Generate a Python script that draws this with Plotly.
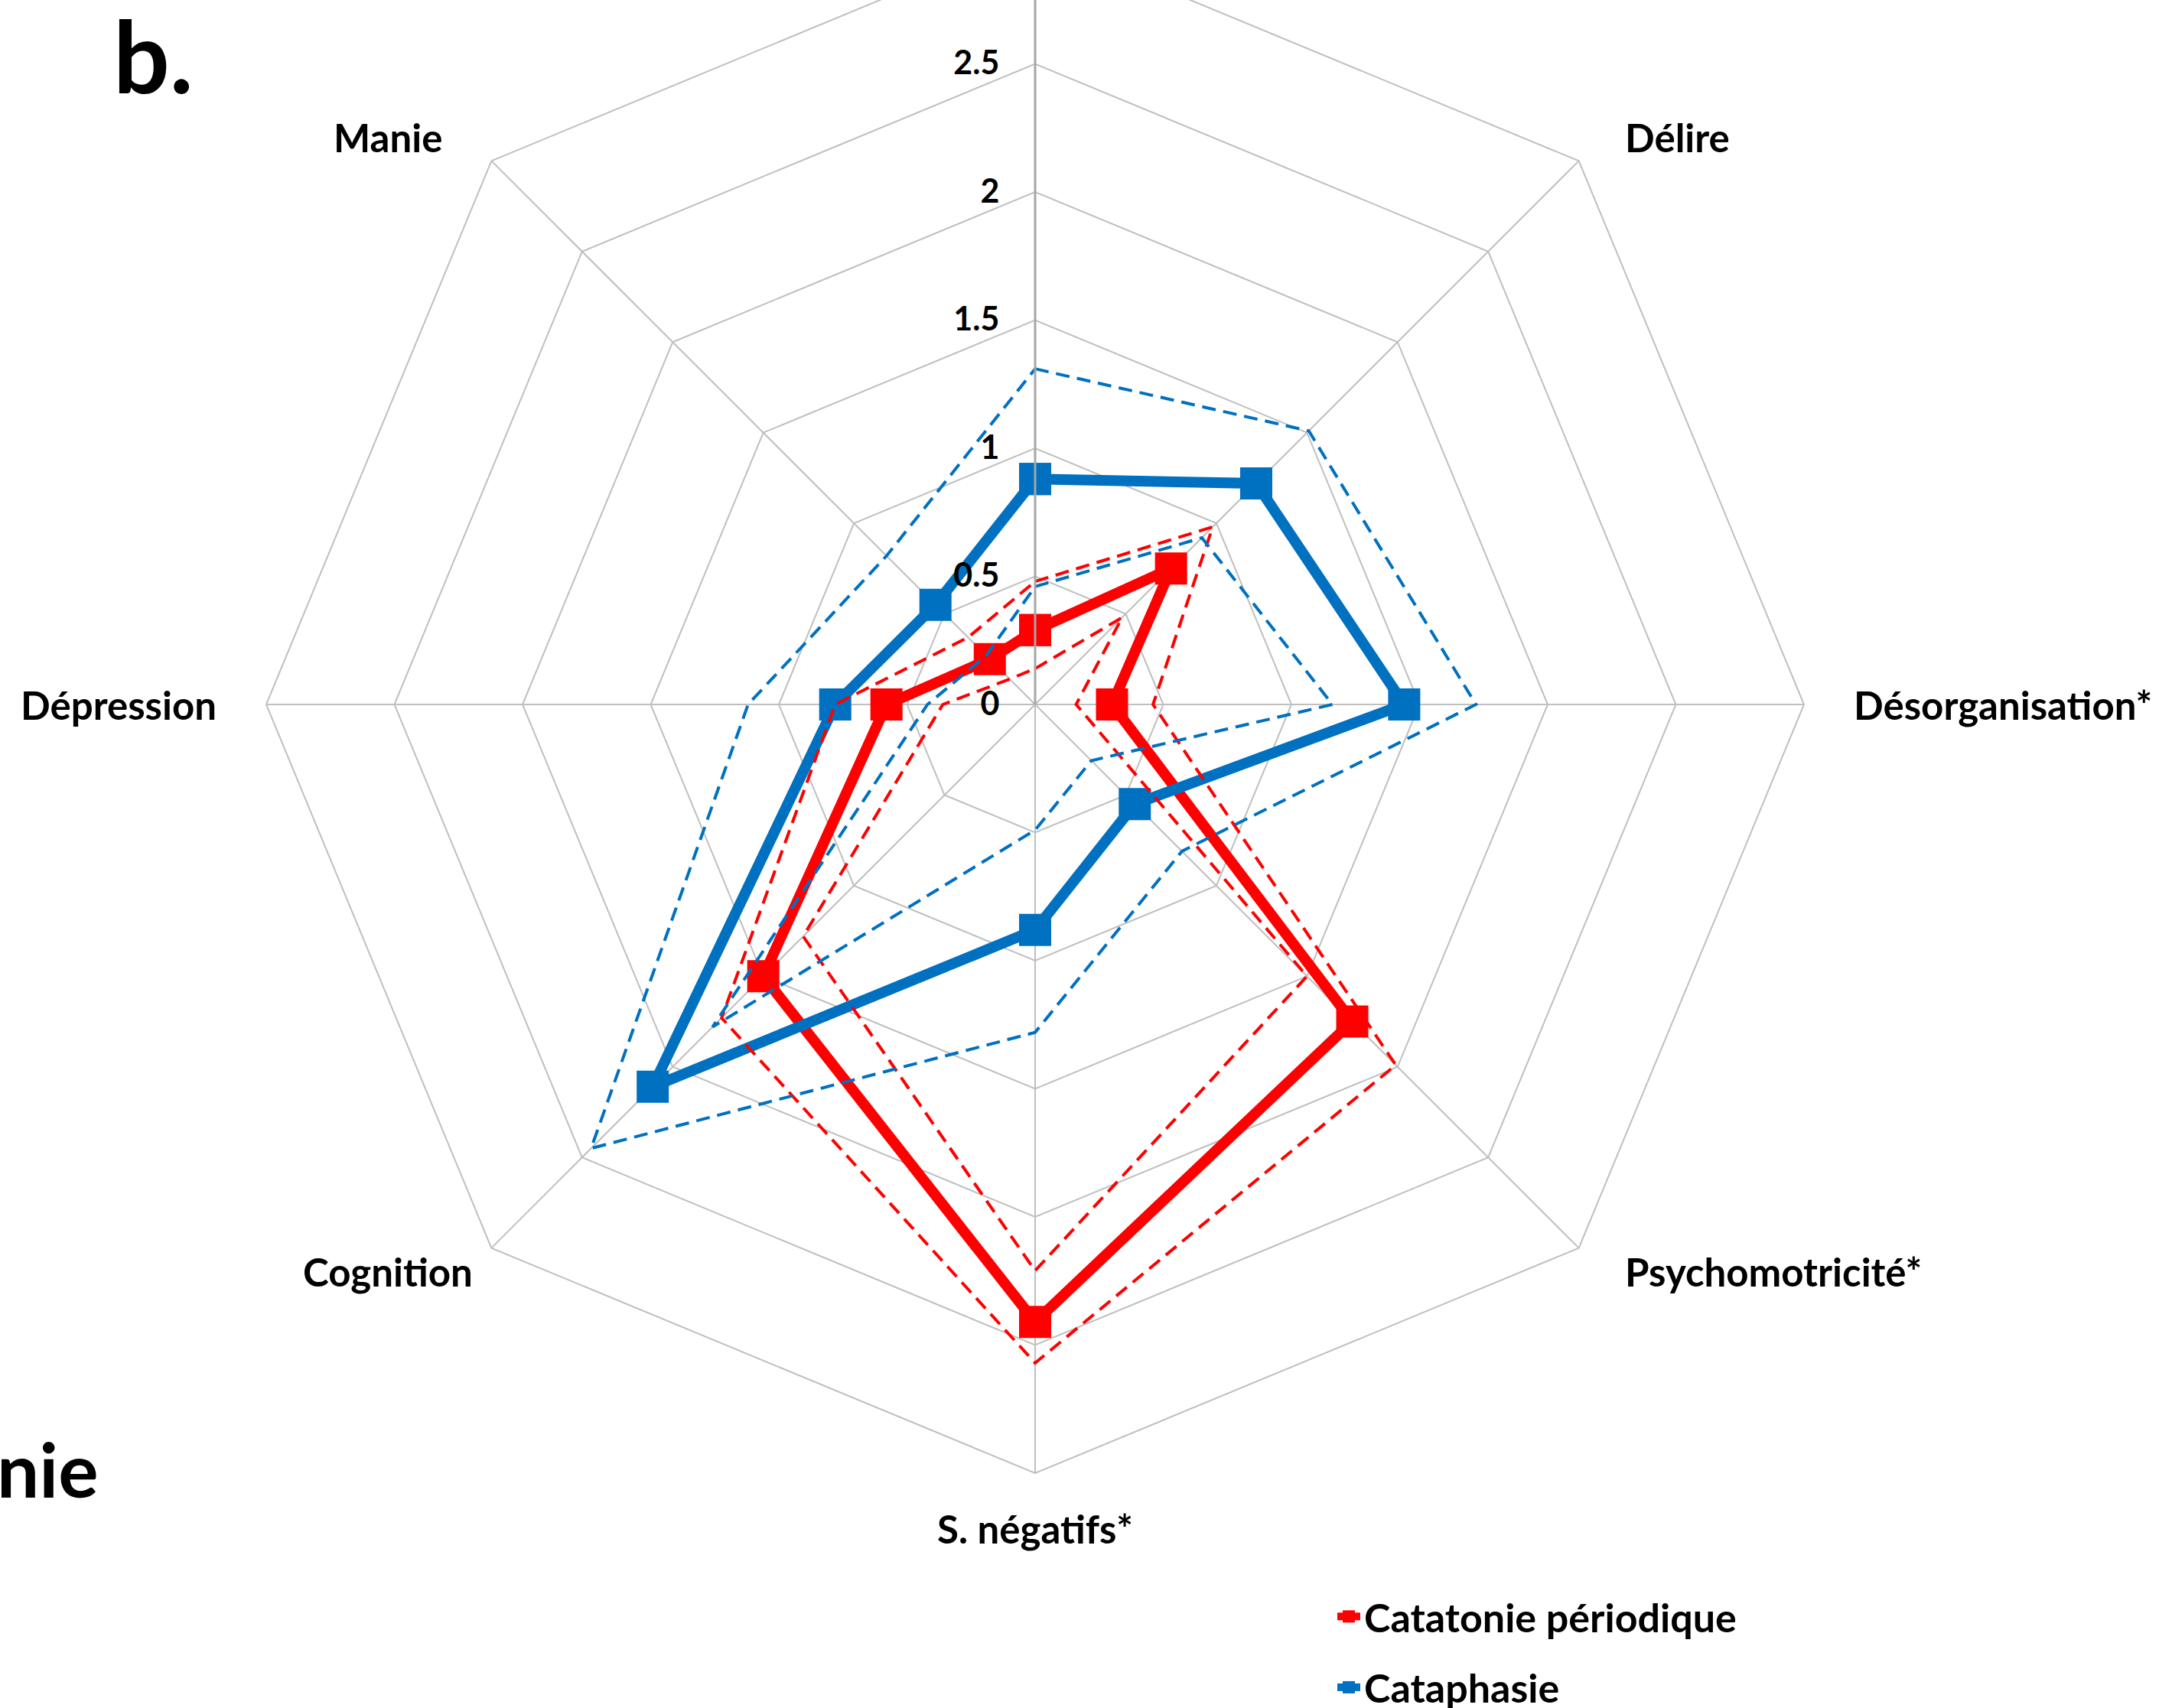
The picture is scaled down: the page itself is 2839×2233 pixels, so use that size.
import math
import plotly.graph_objects as go

# ---------------- data ----------------
# the top axis label lies above the cropped picture, so it is left blank
categories = [" ", "Délire", "Désorganisation*", "Psychomotricité*",
              "S. négatifs*", "Cognition", "Dépression", "Manie"]

catatonie_mean = [0.29, 0.75, 0.30, 1.75, 2.41, 1.50, 0.58, 0.25]
catatonie_upper = [0.48, 0.98, 0.46, 1.99, 2.57, 1.73, 0.78, 0.37]
catatonie_lower = [0.14, 0.48, 0.16, 1.50, 2.21, 1.28, 0.36, 0.14]

cataphasie_mean = [0.88, 1.22, 1.44, 0.55, 0.88, 2.11, 0.78, 0.55]
cataphasie_upper = [1.31, 1.51, 1.72, 0.81, 1.28, 2.45, 1.12, 0.82]
cataphasie_lower = [0.46, 0.92, 1.16, 0.31, 0.49, 1.78, 0.42, 0.27]

radial_ticks = [0, 0.5, 1, 1.5, 2, 2.5]
radial_labels = ["0", "0.5", "1", "1.5", "2", "2.5"]

series_names = ["Catatonie périodique", "Cataphasie"]

# ---------------- layout constants (pixels) ----------------
W, H_VIS = 2839, 2233
CX, CY, R = 1353, 921, 1005         # centre / outer radius of the web in the visible page
SHIFT = R - CY                        # the top of the web lies above the page
EXTRA = 200                           # room below the page so the legend never forces a margin
H = H_VIS + SHIFT + EXTRA

RED = "#FF0000"
BLUE = "#0070C0"
FONT = "Lato"


def closed(v):
    return list(v) + [v[0]]


theta = closed(categories)

fig = go.Figure()

# solid mean lines
for vals, col, name in [(catatonie_mean, RED, series_names[0]),
                        (cataphasie_mean, BLUE, series_names[1])]:
    fig.add_trace(go.Scatterpolar(
        r=closed(vals), theta=theta, mode="lines+markers", name=name,
        line=dict(color=col, width=14),
        marker=dict(symbol="square", size=42, color=col),
        legendgroup=name,
    ))

# dashed confidence bounds
for vals, col, name in [(catatonie_upper, RED, series_names[0]),
                        (catatonie_lower, RED, series_names[0]),
                        (cataphasie_upper, BLUE, series_names[1]),
                        (cataphasie_lower, BLUE, series_names[1])]:
    fig.add_trace(go.Scatterpolar(
        r=closed(vals), theta=theta, mode="lines", showlegend=False,
        line=dict(color=col, width=4, dash="18px,10px"),
        legendgroup=name, hoverinfo="skip",
    ))

dom_x = [(CX - R) / W, (CX + R) / W]
dom_y = [(H - (CY + SHIFT + R)) / H, 1.0]


def py(y):
    return 1 - (y + SHIFT) / H


label_font = dict(family=FONT, size=51, color="black", weight="bold")

# category labels placed beside the outer web vertices (Excel-style placement)
annotations = []
n = len(categories)
for i, name in enumerate(categories):
    if not name.strip():
        continue
    a = 2 * math.pi * i / n
    s, c = math.sin(a), math.cos(a)
    vx, vy = CX + R * s, CY - R * c
    if abs(s) < 1e-6:                       # bottom
        x, y, xa = vx, vy + 72, "center"
    elif abs(c) < 1e-6:                     # left / right
        x, y, xa = vx + math.copysign(63, s), vy, ("left" if s > 0 else "right")
    else:                                   # diagonal corners
        y = vy - math.copysign(31, c)
        if s > 0:
            x, xa = vx + 58, "left"
        else:
            x, xa = vx - 135, "center"
    annotations.append(dict(text=name, x=x / W, y=py(y), xref="paper", yref="paper",
                            xanchor=xa, yanchor="middle", showarrow=False, font=label_font))

annotations += [
    dict(text="b.", x=146 / W, y=py(72), xref="paper", yref="paper",
         xanchor="left", yanchor="middle", showarrow=False,
         font=dict(family=FONT, size=130, color="black", weight="bold")),
    dict(text="nie", x=-6 / W, y=py(1920), xref="paper", yref="paper",
         xanchor="left", yanchor="middle", showarrow=False,
         font=dict(family=FONT, size=98, color="black", weight="bold")),
]

fig.update_layout(
    width=W, height=H,
    margin=dict(l=0, r=0, t=0, b=0, autoexpand=False),
    paper_bgcolor="white",
    plot_bgcolor="white",
    font=dict(family=FONT, color="black"),
    polar=dict(
        domain=dict(x=dom_x, y=dom_y),
        bgcolor="white",
        gridshape="linear",
        angularaxis=dict(
            type="category", categoryarray=categories,
            rotation=90, direction="clockwise",
            showline=True, linecolor="#BFBFBF", linewidth=2,
            showgrid=True, gridcolor="#BFBFBF", gridwidth=2,
            showticklabels=False, ticks="",
        ),
        radialaxis=dict(
            range=[0, 3], tickvals=radial_ticks, ticktext=radial_labels,
            angle=90, tickangle=90, side="counterclockwise",
            showline=True, linecolor="#A6A6A6", linewidth=3,
            showgrid=True, gridcolor="#BFBFBF", gridwidth=2,
            ticks="outside", ticklen=30, tickcolor="rgba(0,0,0,0)",
            tickfont=dict(family=FONT, size=43, color="black", weight="bold"),
        ),
    ),
    showlegend=True,
    legend=dict(
        x=1743 / W, y=py(2073), xanchor="left", yanchor="top",
        font=dict(family=FONT, size=52, color="black", weight="bold"),
        tracegroupgap=22, bgcolor="rgba(0,0,0,0)",
    ),
    annotations=annotations,
)

post = ("document.body.style.margin='0';document.body.style.overflow='hidden';"
        "var gd=document.getElementById('{plot_id}');gd.style.marginTop='-%dpx';" % SHIFT)

fig.write_html("out.html", config={"displayModeBar": False}, post_script=post)
